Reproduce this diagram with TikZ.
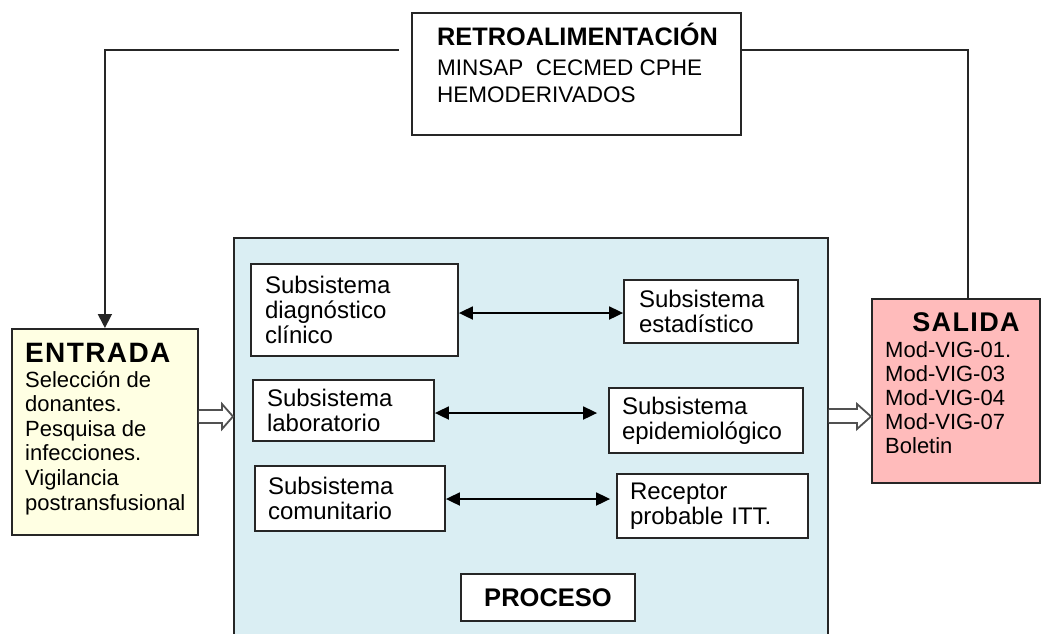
\documentclass[tikz,border=0pt]{standalone}
\usepackage{fontspec}
\setmainfont{Liberation Sans}
\usetikzlibrary{arrows.meta,calc}
\definecolor{procfill}{HTML}{DAEEF3}
\definecolor{entfill}{HTML}{FFFFE3}
\definecolor{salfill}{HTML}{FFBBBB}
\definecolor{edge}{HTML}{262626}
\begin{document}
\begin{tikzpicture}[x=1pt,y=-1pt,
  box/.style={draw=edge, line width=1.8pt},
  sub/.style={box, fill=white, align=left, inner ysep=0pt, font=\fontsize{24}{25}\selectfont},
  txt/.style={inner sep=0pt, align=left},
  bodyfont/.style={font=\fontsize{22}{24.6}\selectfont},
  titlefont/.style={font=\fontsize{#1}{30}\selectfont\bfseries\addfontfeature{LetterSpace=5}},
  biarrow/.style={draw=black, line width=1.8pt, {Triangle[length=14pt,width=13pt]}-{Triangle[length=14pt,width=13pt]}},
  fb/.style={draw=edge, line width=1.8pt},
  hollow/.style={draw=edge!80, line width=1.8pt, fill=white, line join=miter}
]
\useasboundingbox (0,0) rectangle (1049,633);
\clip (0,0) rectangle (1049,633);

% main process box
\node[box, fill=procfill, minimum width=594, minimum height=420, anchor=north west, inner sep=0pt] (proceso) at (233,237) {};

% retroalimentacion
\node[box, fill=white, minimum width=329, minimum height=122, anchor=north west, inner sep=0pt] (retro) at (411,12) {};
\node[txt, anchor=base west, font=\fontsize{25.3}{27}\selectfont\bfseries] (retrotitle) at (437,45) {RETROALIMENTACIÓN};
% base anchor of a multi-line node = baseline of its last line
\node[txt, anchor=base west, font=\fontsize{22.5}{27}\selectfont] (retrobody) at (437,102) {MINSAP\ \ CECMED CPHE\\HEMODERIVADOS};

% entrada
\node[box, fill=entfill, minimum width=186, minimum height=206, anchor=north west, inner sep=0pt] (entrada) at (11,328) {};
\node[txt, anchor=base west, titlefont=28] (enttitle) at (25,362) {ENTRADA};
\node[txt, anchor=base west, bodyfont] (entbody) at (25,510) {Selección de\\donantes.\\Pesquisa de\\infecciones.\\Vigilancia\\postransfusional};

% salida
\node[box, fill=salfill, minimum width=168, minimum height=184, anchor=north west, inner sep=0pt] (salida) at (871,298) {};
\node[txt, anchor=base, titlefont=27] (saltitle) at (966,331) {SALIDA};
\node[txt, anchor=base west, font=\fontsize{22}{24}\selectfont] (salbody) at (885,453) {Mod-VIG-01.\\Mod-VIG-03\\Mod-VIG-04\\Mod-VIG-07\\Boletin};

% subsystems
\node[sub, minimum width=207, minimum height=92, inner xsep=14pt, text width=179pt] (b1) at (354.5,310) {Subsistema\\diagnóstico\\clínico};
\node[sub, minimum width=174, minimum height=63, inner xsep=15pt, text width=144pt] (b2) at (711,311.5) {Subsistema\\estadístico};
\node[sub, minimum width=181, minimum height=61, inner xsep=14pt, text width=153pt] (b3) at (343.5,410.5) {Subsistema\\laboratorio};
\node[sub, minimum width=194, minimum height=65, inner xsep=13pt, text width=168pt] (b4) at (706,420.5) {Subsistema\\epidemiológico};
\node[sub, minimum width=190, minimum height=65, inner xsep=13pt, text width=164pt] (b5) at (350,498.5) {Subsistema\\comunitario};
\node[sub, minimum width=191, minimum height=64, inner xsep=13pt, text width=165pt] (b6) at (712.5,506) {Receptor\\probable ITT.};

\node[box, fill=white, minimum width=174, minimum height=47, inner sep=0pt, font=\fontsize{25.5}{27}\selectfont\bfseries] (proclabel) at (548,597.5) {PROCESO};

% double-headed arrows
\draw[biarrow] (b1.east |- 0,313) -- (b2.west |- 0,313);
\draw[biarrow] (b3.east |- 0,413) -- ($(b4.west |- 0,413)+(-11,0)$);
\draw[biarrow] (b5.east |- 0,499) -- ($(b6.west |- 0,499)+(-6,0)$);

% feedback loop
\draw[fb, -{Triangle[length=14pt,width=14pt]}] ($(retro.west |- 0,50)+(-12,0)$) -| (entrada.north);
\draw[fb] (retro.east |- 0,50) -| ($(salida.north)+(12,0)$);

% hollow arrows
\draw[hollow] (entrada.east |- 0,410) -- (222,410) -- (222,404) -- (proceso.west |- 0,416.5) -- (222,429) -- (222,423) -- (entrada.east |- 0,423);
\draw[hollow] (proceso.east |- 0,409) -- (857,409) -- (857,404) -- (salida.west |- 0,416.5) -- (857,429) -- (857,423) -- (proceso.east |- 0,423);
\end{tikzpicture}
\end{document}
